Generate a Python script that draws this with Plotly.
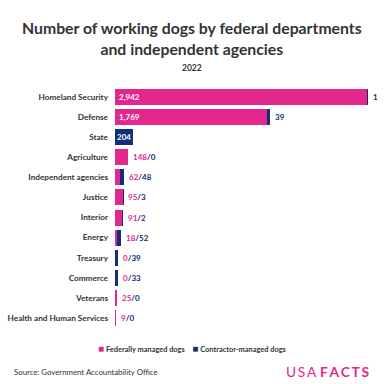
import plotly.graph_objects as go

categories = ["Homeland Security", "Defense", "State", "Agriculture", "Independent agencies",
              "Justice", "Interior", "Energy", "Treasury", "Commerce", "Veterans",
              "Health and Human Services"]
federal = [2942, 1769, 0, 148, 62, 95, 91, 18, 0, 0, 25, 9]
contractor = [1, 39, 204, 0, 48, 3, 2, 52, 39, 33, 0, 0]
series_names = ["Federally managed dogs", "Contractor-managed dogs"]
title_lines = ["Number of working dogs by federal departments", "and independent agencies"]

PINK = "#E3278D"
NAVY = "#0F3078"
TXT = "#333333"
FONT = "Lato"

W, H = 384, 384
ML, MR, MT, MB = 115, 16, 87, 56
PW = W - ML - MR
PH = H - MT - MB
XMAX = max(f + c for f, c in zip(federal, contractor))

def px(x):
    return (x - ML) / PW

def py(y):
    return 1 - (y - MT) / PH

fig = go.Figure()
fig.add_trace(go.Bar(y=categories, x=federal, orientation="h", name=series_names[0],
                     marker=dict(color=PINK, line=dict(width=0))))
fig.add_trace(go.Bar(y=categories, x=contractor, orientation="h", name=series_names[1],
                     marker=dict(color=NAVY, line=dict(width=0))))

LBL = 8
annotations = []
for cat, f, c in zip(categories, federal, contractor):
    total = f + c
    if f > 1000:
        annotations.append(dict(x=0, y=cat, xref="x", yref="y", text=f"<b>{f:,}</b>",
                                showarrow=False, xanchor="left", xshift=2,
                                font=dict(color="white", size=LBL, family=FONT)))
        annotations.append(dict(x=total, y=cat, xref="x", yref="y", text=f"<b>{c:,}</b>",
                                showarrow=False, xanchor="left", xshift=3,
                                font=dict(color=NAVY, size=LBL, family=FONT)))
    elif f == 0 and c > 100:
        annotations.append(dict(x=0, y=cat, xref="x", yref="y", text=f"<b>{c:,}</b>",
                                showarrow=False, xanchor="left", xshift=0,
                                font=dict(color="white", size=LBL, family=FONT)))
    else:
        annotations.append(dict(x=total, y=cat, xref="x", yref="y",
                                text=f"<b><span style='color:{PINK}'>{f}</span>/<span style='color:{NAVY}'>{c}</span></b>",
                                showarrow=False, xanchor="left", xshift=3,
                                font=dict(color=NAVY, size=LBL, family=FONT)))

annotations.append(dict(x=px(192), y=py(38), xref="paper", yref="paper",
                        text="<b>" + "<br>".join(title_lines) + "</b>",
                        showarrow=False, xanchor="center", yanchor="middle",
                        font=dict(size=15.8, color=TXT, family=FONT)))
annotations.append(dict(x=px(192), y=py(68), xref="paper", yref="paper", text="<b>2022</b>",
                        showarrow=False, xanchor="center", yanchor="middle",
                        font=dict(size=8.5, color=TXT, family=FONT)))
annotations.append(dict(x=px(12), y=py(372), xref="paper", yref="paper",
                        text="Source: Government Accountability Office",
                        showarrow=False, xanchor="left", yanchor="middle",
                        font=dict(size=7.8, color=TXT, family=FONT)))
ts = "\u2009"
annotations.append(dict(x=px(372), y=py(371), xref="paper", yref="paper",
                        text=f"<span style='color:{PINK}'>{ts.join('USA')}</span>{ts}{ts}<b>{ts.join('FACTS')}</b>",
                        showarrow=False, xanchor="right", yanchor="middle",
                        font=dict(size=13.8, color=PINK, family=FONT)))
# legend
annotations.append(dict(x=px(192), y=py(348), xref="paper", yref="paper",
                        text=(f"<span style='color:{PINK};font-size:10px'>■</span> <b>{series_names[0]}</b>"
                              f"    <span style='color:{NAVY};font-size:10px'>■</span> <b>{series_names[1]}</b>"),
                        showarrow=False, xanchor="center", yanchor="middle",
                        font=dict(size=7.4, color=TXT, family=FONT)))

fig.update_layout(
    width=W, height=H,
    margin=dict(l=ML, r=MR, t=MT, b=MB, autoexpand=False),
    barmode="stack", bargap=0.2,
    paper_bgcolor="white", plot_bgcolor="white",
    font=dict(family=FONT, color=TXT),
    xaxis=dict(range=[0, XMAX], visible=False, fixedrange=True),
    yaxis=dict(autorange="reversed", showgrid=False, showline=False, ticks="", automargin=False,
               tickfont=dict(size=8.2, color=TXT, family=FONT), fixedrange=True,
               tickvals=categories, ticktext=[f"<b>{c}</b>" for c in categories], ticklabelstandoff=6),
    annotations=annotations,
    showlegend=False,
)
fig.write_html("out.html", config={"displayModeBar": False},
               post_script="document.body.style.margin='0';")
